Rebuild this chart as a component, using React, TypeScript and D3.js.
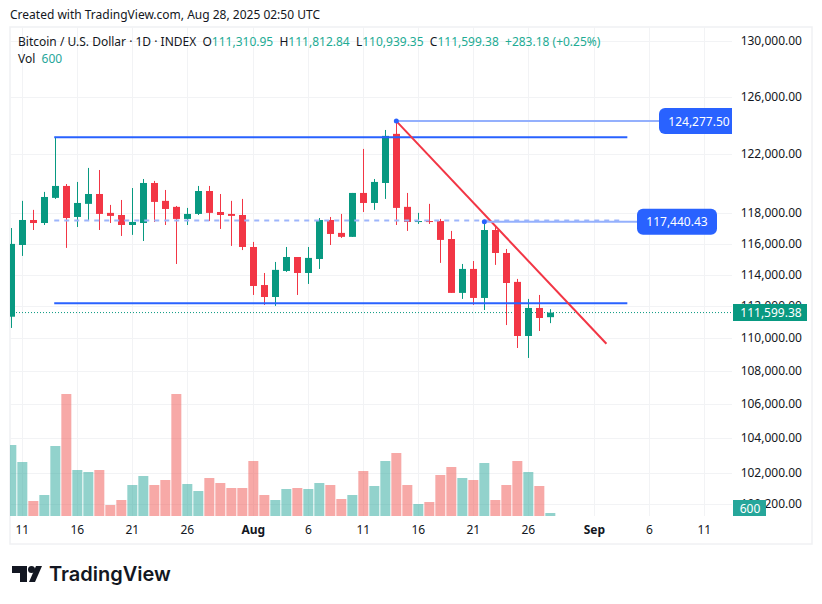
import { useEffect, useRef } from "react";
import * as d3 from "d3";

// one entry per day, starting Jul 10 2025
const firstDay = Date.UTC(2025, 6, 10);
const opens = [
  111340, 115920, 117560, 117360, 119030, 119830, 117760, 118630, 119290, 118030,
  117890, 117230, 117360, 120030, 118830, 118430, 117630, 117960, 119490, 118090,
  117960, 117890, 115790, 113340, 112580, 114240, 115140, 114110, 115010, 117560,
  116710, 116450, 119360, 118690, 120030, 123390, 118430, 117430, 117490, 117490,
  116310, 112840, 114370, 112520, 116900, 115400, 113540, 110140, 111890, 111310.95,
];
const highs = [
  117030, 118830, 118230, 119430, 123180, 119960, 120100, 121050, 120910, 118560,
  118890, 119690, 120300, 120170, 119560, 118490, 118360, 119830, 119830, 119290,
  118830, 118960, 116120, 114110, 114820, 115790, 115140, 115790, 117690, 117760,
  117960, 119360, 122350, 120300, 123660, 124277.5, 119360, 118030, 118630, 117630,
  116840, 114690, 114880, 117440, 117100, 115660, 113730, 112460, 112710, 111812.84,
];
const lows = [
  110640, 115210, 116900, 117230, 118960, 115730, 117100, 117490, 116900, 117360,
  116510, 116580, 116180, 117430, 117230, 114690, 117230, 117890, 117490, 116970,
  115860, 115590, 112710, 112080, 112020, 114180, 112710, 113410, 114370, 115920,
  116380, 116450, 118090, 118230, 118960, 117230, 116840, 117300, 117300, 114760,
  112840, 112460, 112080, 111760, 114630, 110820, 109400, 108790, 110450, 110939.35,
];
const closes = [
  115990, 117560, 117360, 119090, 119830, 117690, 118690, 119290, 117960, 117830,
  117230, 117430, 120030, 118760, 118290, 117630, 117960, 119490, 118030, 117890,
  117830, 115790, 113280, 112580, 114310, 115140, 114110, 115080, 117560, 116640,
  116450, 119360, 118690, 120100, 123250, 118360, 117430, 117490, 117430, 116250,
  112840, 114370, 112520, 116900, 115400, 113470, 110140, 111890, 111260, 111599.38,
];
const volumes = [
  14200, 10800, 3000, 4200, 14000, 24400, 9200, 8800, 9200, 2200,
  3200, 6200, 8000, 6200, 7200, 24400, 6400, 5000, 7600, 6600,
  5600, 5600, 11000, 4200, 3200, 5400, 5600, 5400, 6600, 6200,
  3400, 4200, 9000, 6000, 11000, 12600, 6200, 2400, 2800, 8200,
  9800, 7600, 7200, 10600, 3200, 6200, 11000, 8800, 6000, 600,
];
const priceTicks = [130000, 126000, 122000, 118000, 116000, 114000, 112000, 110000, 108000, 106000, 104000, 102000, 100200];
const dayTicks = [
  [Date.UTC(2025, 6, 11), "11"],
  [Date.UTC(2025, 6, 16), "16"],
  [Date.UTC(2025, 6, 21), "21"],
  [Date.UTC(2025, 6, 26), "26"],
  [Date.UTC(2025, 7, 1), "Aug"],
  [Date.UTC(2025, 7, 6), "6"],
  [Date.UTC(2025, 7, 11), "11"],
  [Date.UTC(2025, 7, 16), "16"],
  [Date.UTC(2025, 7, 21), "21"],
  [Date.UTC(2025, 7, 26), "26"],
  [Date.UTC(2025, 8, 1), "Sep"],
  [Date.UTC(2025, 8, 6), "6"],
  [Date.UTC(2025, 8, 11), "11"],
] as [number, string][];

const DAY = 86400000;
const UP = "#089981";
const DOWN = "#F23645";
const BLUE = "#2962FF";
const FONT = "'Noto Sans', sans-serif";

const App = () => {
  const ref = useRef<SVGSVGElement>(null);

  useEffect(() => {
    const svg = d3.select(ref.current);
    svg.selectAll("*").remove();

    const left = 10,
      right = 812,
      paneRight = 732,
      top = 27,
      paneBottom = 516,
      bottom = 544;

    const x = d3
      .scaleUtc()
      .domain([Date.UTC(2025, 6, 11), Date.UTC(2025, 7, 26)])
      .range([22.33, 528.33]);
    const y = d3.scaleLog().domain([130000, 100200]).range([41, 504.3]);
    const yVol = d3.scaleLinear().domain([0, 24400]).range([paneBottom, paneBottom - 122]);
    const days = opens.map((_, i) => firstDay + i * DAY);

    svg.append("rect").attr("width", 822).attr("height", 604).attr("fill", "#fff");

    const defs = svg.append("defs");
    defs
      .append("clipPath")
      .attr("id", "pane")
      .append("rect")
      .attr("x", left)
      .attr("y", top)
      .attr("width", paneRight - left)
      .attr("height", paneBottom - top);

    // frame
    svg
      .append("rect")
      .attr("x", left)
      .attr("y", top)
      .attr("width", right - left)
      .attr("height", bottom - top)
      .attr("fill", "none")
      .attr("stroke", "#f0f1f3")
      .attr("stroke-width", 1.5);

    // grid
    const grid = svg.append("g").attr("stroke", "#f2f3f5").attr("stroke-width", 1);
    dayTicks.forEach(([d]) => {
      grid
        .append("line")
        .attr("x1", Math.round(x(d)) + 0.5)
        .attr("x2", Math.round(x(d)) + 0.5)
        .attr("y1", top)
        .attr("y2", paneBottom);
    });
    priceTicks.forEach((p) => {
      grid
        .append("line")
        .attr("x1", left)
        .attr("x2", paneRight)
        .attr("y1", Math.round(y(p)) + 0.5)
        .attr("y2", Math.round(y(p)) + 0.5);
    });

    const pane = svg.append("g").attr("clip-path", "url(#pane)");

    // volume
    pane
      .append("g")
      .selectAll("rect")
      .data(days)
      .enter()
      .append("rect")
      .attr("x", (d) => x(d) - 5)
      .attr("width", 10)
      .attr("y", (_, i) => yVol(volumes[i]))
      .attr("height", (_, i) => paneBottom - yVol(volumes[i]))
      .attr("fill", (_, i) => (closes[i] >= opens[i] ? "#26a69a" : "#ef5350"))
      .attr("opacity", 0.5);

    // last price line
    pane
      .append("line")
      .attr("x1", left)
      .attr("x2", paneRight)
      .attr("y1", y(closes[closes.length - 1]))
      .attr("y2", y(closes[closes.length - 1]))
      .attr("stroke", UP)
      .attr("stroke-dasharray", "1 2");

    // candles
    const candles = pane.append("g");
    days.forEach((d, i) => {
      const color = closes[i] >= opens[i] ? UP : DOWN;
      const cx = Math.floor(x(d));
      candles
        .append("rect")
        .attr("x", cx)
        .attr("width", 1)
        .attr("y", y(highs[i]))
        .attr("height", y(lows[i]) - y(highs[i]))
        .attr("fill", color);
      const yTop = y(Math.max(opens[i], closes[i]));
      const yBot = y(Math.min(opens[i], closes[i]));
      candles
        .append("rect")
        .attr("x", cx - 3)
        .attr("width", 7)
        .attr("y", yTop)
        .attr("height", Math.max(1, yBot - yTop))
        .attr("fill", color);
    });

    // drawings
    const drawLine = (
      x1: number,
      p1: number,
      x2: number,
      p2: number,
      color: string,
      width: number,
      dash?: string
    ) => {
      svg
        .append("line")
        .attr("x1", x(x1))
        .attr("x2", x(x2))
        .attr("y1", y(p1))
        .attr("y2", y(p2))
        .attr("stroke", color)
        .attr("stroke-width", width)
        .attr("stroke-dasharray", dash ?? null);
    };
    const d0 = firstDay + 3.9 * DAY;
    const d1 = firstDay + 56 * DAY;
    drawLine(d0, 123150, d1, 123150, BLUE, 2);
    drawLine(d0, 112190, d1, 112190, BLUE, 2);
    drawLine(d0, 117530, firstDay + 55.5 * DAY, 117530, "#9db5fb", 2, "5 5");

    const peak = firstDay + 35 * DAY;
    const swing = firstDay + 43 * DAY;
    const red = firstDay + 54.1 * DAY;
    drawLine(peak, 124277.5, red, 109660, DOWN, 2);
    drawLine(peak, 124277.5, firstDay + 59 * DAY, 124277.5, "#94b0fd", 2);
    drawLine(swing, 117440.43, firstDay + 57.2 * DAY, 117440.43, "#94b0fd", 2);
    [
      [peak, 124277.5],
      [swing, 117440.43],
    ].forEach(([d, p]) => {
      svg.append("circle").attr("cx", x(d)).attr("cy", y(p)).attr("r", 2.5).attr("fill", BLUE);
    });

    const tag = (tx: number, w: number, p: number, label: string) => {
      svg
        .append("rect")
        .attr("x", tx)
        .attr("y", y(p) - 13)
        .attr("width", w)
        .attr("height", 26)
        .attr("rx", 6)
        .attr("fill", BLUE)
        .attr("clip-path", "url(#pane)");
      svg
        .append("text")
        .attr("x", tx + 40)
        .attr("y", y(p) + 4.5)
        .attr("text-anchor", "middle")
        .attr("fill", "#fff")
        .attr("font-size", 12)
        .attr("font-family", FONT)
        .text(label);
    };
    tag(659, 80, 124277.5, "124,277.50");
    tag(637, 80, 117440.43, "117,440.43");

    // price axis
    const axis = svg
      .append("g")
      .attr("font-family", FONT)
      .attr("font-size", 12)
      .attr("fill", "#131722")
      .attr("text-anchor", "end");
    priceTicks.forEach((p) => {
      axis
        .append("text")
        .attr("x", 802)
        .attr("y", y(p) + 4)
        .text(d3.format(",.2f")(p));
    });

    const lastY = y(closes[closes.length - 1]);
    svg.append("rect").attr("x", 733).attr("y", 304).attr("width", 74).attr("height", 17).attr("fill", UP);
    svg
      .append("text")
      .attr("x", 771)
      .attr("y", lastY + 4.5)
      .attr("text-anchor", "middle")
      .attr("fill", "#fff")
      .attr("font-size", 12)
      .attr("font-family", FONT)
      .text(d3.format(",.2f")(closes[closes.length - 1]));

    svg.append("rect").attr("x", 733).attr("y", 500).attr("width", 33).attr("height", 16).attr("fill", "#26a69a");
    svg
      .append("text")
      .attr("x", 750)
      .attr("y", 512.5)
      .attr("text-anchor", "middle")
      .attr("fill", "#fff")
      .attr("font-size", 12)
      .attr("font-family", FONT)
      .text(d3.format(",")(volumes[volumes.length - 1]));

    // time axis
    dayTicks.forEach(([d, label]) => {
      const isMonth = label === "Aug" || label === "Sep";
      svg
        .append("text")
        .attr("x", x(d))
        .attr("y", 534)
        .attr("text-anchor", "middle")
        .attr("fill", "#131722")
        .attr("font-size", 12)
        .attr("font-weight", isMonth ? 700 : 400)
        .attr("font-family", FONT)
        .text(label);
    });

    // header
    svg
      .append("text")
      .attr("x", 10)
      .attr("y", 19)
      .attr("fill", "#131722")
      .attr("font-size", 12)
      .attr("font-family", FONT)
      .text("Created with TradingView.com, Aug 28, 2025 02:50 UTC");

    const legend = svg
      .append("text")
      .attr("x", 18)
      .attr("y", 46)
      .attr("fill", "#131722")
      .attr("font-size", 12)
      .attr("font-family", FONT);
    const last = opens.length - 1;
    const fmt = d3.format(",.2f");
    const legendParts: [string, string][] = [
      ["Bitcoin / U.S. Dollar · 1D · INDEX  O", "#131722"],
      [fmt(opens[last]), "#22ab94"],
      ["  H", "#131722"],
      [fmt(highs[last]), "#22ab94"],
      ["  L", "#131722"],
      [fmt(lows[last]), "#22ab94"],
      ["  C", "#131722"],
      [fmt(closes[last]), "#22ab94"],
      ["  +283.18 (+0.25%)", "#22ab94"],
    ];
    legend.attr("xml:space", "preserve").style("white-space", "pre");
    legendParts.forEach(([t, c]) => legend.append("tspan").attr("fill", c).text(t));

    const volLegend = svg
      .append("text")
      .attr("x", 18)
      .attr("y", 63)
      .attr("fill", "#131722")
      .attr("font-size", 12)
      .attr("font-family", FONT)
      .style("white-space", "pre");
    volLegend.append("tspan").text("Vol  ");
    volLegend.append("tspan").attr("fill", "#26a69a").text(String(volumes[last]));

    // logo
    const logo = svg.append("g").attr("fill", "#131722");
    logo.append("path").attr("d", "M12 566H27V582H20V573H12Z");
    logo.append("circle").attr("cx", 31.5).attr("cy", 569.5).attr("r", 3.5);
    logo.append("path").attr("d", "M29 582L36 566H42L35 582Z");
    logo
      .append("text")
      .attr("x", 49)
      .attr("y", 581)
      .attr("font-family", "Inter, sans-serif")
      .attr("font-weight", 600)
      .attr("font-size", 20)
      .text("TradingView");
  }, []);

  return <svg ref={ref} width={822} height={604} style={{ position: "absolute", left: 0, top: 0 }} />;
};

export default App;
